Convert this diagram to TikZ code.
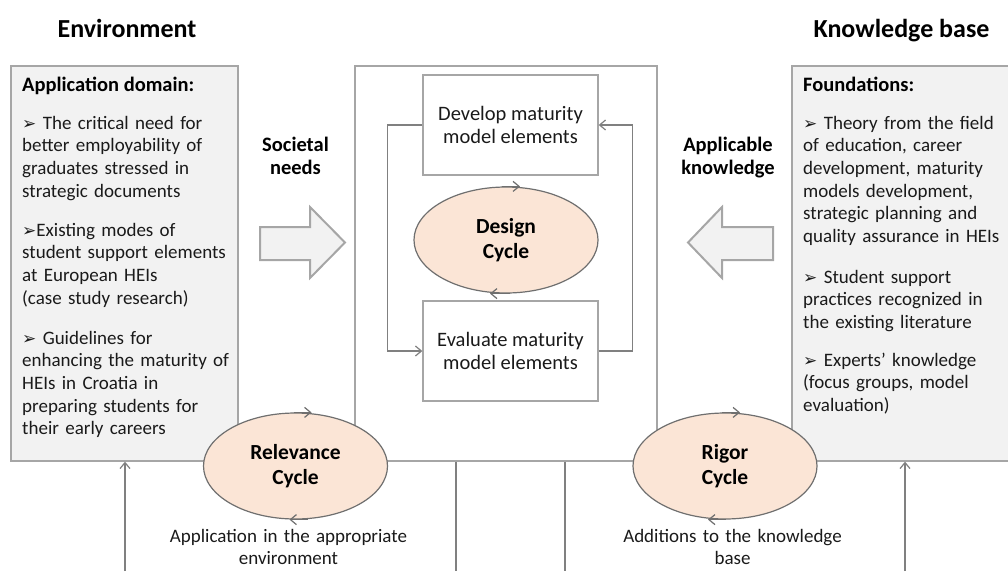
\documentclass[tikz,border=0pt]{standalone}
\usepackage{fontspec}
\setmainfont{Carlito}
\newfontfamily\symfont{DejaVu Sans}
\usetikzlibrary{arrows.meta,shapes.geometric}
\definecolor{boxfill}{HTML}{F2F2F2}
\definecolor{boxline}{HTML}{A6A6A6}
\definecolor{cyclefill}{HTML}{FBE5D6}
\definecolor{cycleline}{HTML}{6F6F6F}
\definecolor{connline}{HTML}{808080}
\definecolor{txt}{HTML}{1A1A1A}
\newcommand\fsTitle{\fontsize{26}{30}\selectfont\bfseries}
\newcommand\fsHead{\fontsize{20.5}{24}\selectfont\bfseries}
\newcommand\fsHeadL{\fontsize{20.5}{23}\selectfont\bfseries}
\newcommand\fsBody{\fontsize{19}{22.7}\selectfont}
\newcommand\fsBox{\fontsize{20.5}{23.5}\selectfont}
\newcommand\fsCyc{\fontsize{21.5}{25}\selectfont\bfseries}
\newcommand\fsLow{\fontsize{19}{21.5}\selectfont}
\newcommand\bul{{\symfont\fontsize{17}{17}\selectfont ➢}}
\begin{document}
\begin{tikzpicture}[x=1pt,y=-1pt,
  panel/.style={draw=boxline, fill=boxfill, line width=1.3pt, inner sep=0pt},
  stepbox/.style={draw=boxline, fill=white, line width=1.3pt, minimum width=175pt, minimum height=100pt, align=center, font=\fsBox, text=txt},
  cyc/.style={ellipse, draw=cycleline, fill=cyclefill, line width=1.2pt, minimum width=184pt, minimum height=106pt, align=center, font=\fsCyc, text=black, inner sep=0pt},
  para/.style={anchor=base west, inner sep=0pt, text width=215pt, align=left, font=\fsBody, text=txt},
  lowtext/.style={anchor=base, inner sep=0pt, text width=280pt, align=center, font=\fsLow, text=txt},
  sidehead/.style={anchor=base, inner sep=0pt, text width=120pt, align=center, font=\fsHeadL, text=black},
  conn/.style={draw=connline, line width=1.2pt},
  cycarrow/.style={draw=cycleline, line width=1.2pt},
  blockarrow/.style={draw=boxline, fill=boxfill, line width=2pt, line join=miter},
  >={Straight Barb[length=6pt,width=10pt]}
]
\useasboundingbox (0,0) rectangle (1008,571);
\clip (0,0) rectangle (1008,571);

% panels
\node[panel, minimum width=227pt, minimum height=395pt] (lbox) at (124.5,263.5) {};
\node[panel, fill=white, minimum width=302pt, minimum height=395pt] (cbox) at (506,263.5) {};
\node[panel, minimum width=222pt, minimum height=395pt] (rbox) at (903,263.5) {};

% titles
\node[anchor=base, inner sep=0pt, font=\fsTitle] (envt) at (127,37) {Environment};
\node[anchor=base, inner sep=0pt, font=\fsTitle] (kbt) at (901.5,37) {Knowledge base};

% left panel text
\node[anchor=base west, inner sep=0pt, font=\fsHead, text=black] (adh) at (22,91) {Application domain:};
\node[para] (l1) at (22,129) {\bul\ The critical need for\\better employability of\\graduates stressed in\\strategic documents};
\node[para] (l2) at (22,236) {\bul Existing modes of\\student support elements\\at European HEIs\\(case study research)};
\node[para] (l3) at (22,344) {\bul\ Guidelines for\\enhancing the maturity of\\HEIs in Croatia in\\preparing students for\\their early careers};

% right panel text
\node[anchor=base west, inner sep=0pt, font=\fsHead, text=black] (fh) at (803,91) {Foundations:};
\node[para] (r1) at (803,129) {\bul\ Theory from the field\\of education, career\\development, maturity\\models development,\\strategic planning and\\quality assurance in HEIs};
\node[para] (r2) at (803,283) {\bul\ Student support\\practices recognized in\\the existing literature};
\node[para] (r3) at (803,366) {\bul\ Experts’ knowledge\\(focus groups, model\\evaluation)};

% side headings
\node[sidehead] (sn) at (295.5,151) {Societal\\needs};
\node[sidehead] (ak) at (728,151) {Applicable\\knowledge};

% block arrows
\draw[blockarrow] (260,227) -- (310,227) -- (310,207) -- (345,242.5) -- (310,278) -- (310,260) -- (260,260) -- cycle;
\draw[blockarrow] (773,227) -- (722,227) -- (722,207) -- (688,242.5) -- (722,278) -- (722,260) -- (773,260) -- cycle;

% design cycle
\node[stepbox] (dev) at (510.5,125) {Develop maturity\\model elements};
\node[stepbox] (eva) at (510.5,351) {Evaluate maturity\\model elements};
\draw[conn,->] (dev.west) -- ++(-35,0) |- (eva.west);
\draw[conn,->] (eva.east) -- ++(34,0) |- (dev.east);

% bottom connectors
\coordinate (bl) at (125,571);
\coordinate (br) at (905,571);
\coordinate (b1) at (456,571);
\coordinate (b2) at (565,571);
\draw[conn,->] (bl) -- (bl |- lbox.south);
\draw[conn,->] (br) -- (br |- rbox.south);
\draw[conn] (b1 |- cbox.south) -- (b1);
\draw[conn] (b2 |- cbox.south) -- (b2);

% cycles
\node[cyc] (des) at (506,240) {Design\\Cycle};
\node[cyc] (rel) at (295.5,466) {Relevance\\Cycle};
\node[cyc] (rig) at (725,466) {Rigor\\Cycle};
\draw[cycarrow,->] ([xshift=-4pt]des.north) -- ([xshift=14pt]des.north);
\draw[cycarrow,->] ([xshift=4pt]des.south) -- ([xshift=-16pt]des.south);
\draw[cycarrow,->] ([xshift=-2pt]rel.north) -- ([xshift=16pt]rel.north);
\draw[cycarrow,->] ([xshift=12pt]rel.south) -- ([xshift=-6pt]rel.south);
\draw[cycarrow,->] ([xshift=-3pt]rig.north) -- ([xshift=15pt]rig.north);
\draw[cycarrow,->] ([xshift=1pt]rig.south) -- ([xshift=-17pt]rig.south);

% bottom labels
\node[lowtext] (appl) at (288.5,542.7) {Application in the appropriate\\environment};
\node[lowtext] (addk) at (732.5,542.7) {Additions to the knowledge\\base};
\end{tikzpicture}
\end{document}
